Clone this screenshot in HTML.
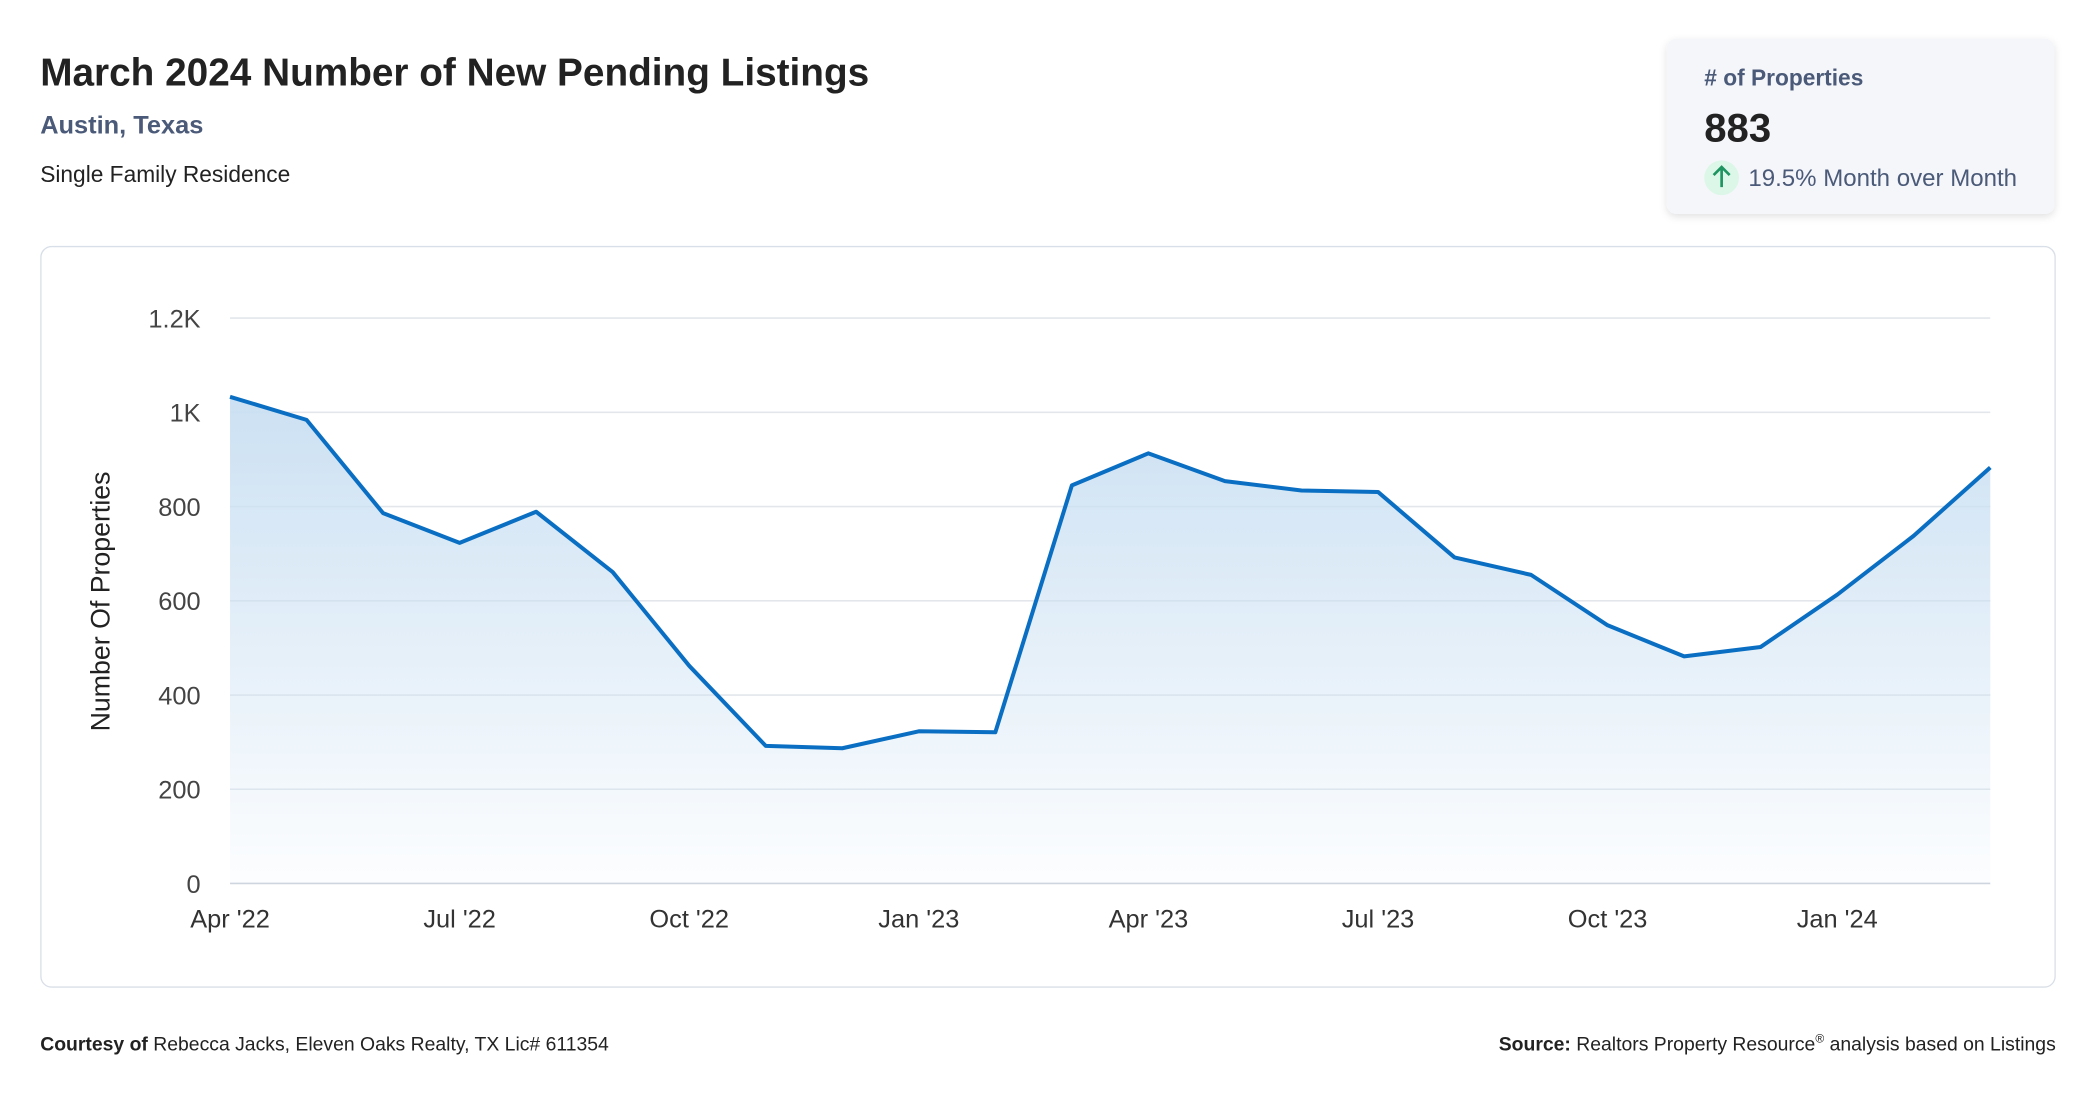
<!DOCTYPE html>
<html><head><meta charset="utf-8">
<style>
html,body{margin:0;padding:0;background:#fff;}
svg{display:block;font-family:"Liberation Sans",sans-serif;}
</style></head>
<body>
<svg id="root" width="2096" height="1100" viewBox="0 0 1568 823" xmlns="http://www.w3.org/2000/svg">
<defs>
<linearGradient id="fillg" x1="0" y1="0" x2="0" y2="1">
<stop offset="0" stop-color="#c9dff2" stop-opacity="0.95"/>
<stop offset="1" stop-color="#c9dff2" stop-opacity="0.05"/>
</linearGradient>
<filter id="sh" x="-10%" y="-10%" width="120%" height="130%"><feDropShadow dx="0" dy="2" stdDeviation="3" flood-color="#000" flood-opacity="0.12"/></filter>
</defs>
<text x="30" y="64" font-size="29" font-weight="bold" fill="#222">March 2024 Number of New Pending Listings</text>
<text x="30" y="100" font-size="19" font-weight="bold" fill="#4a5a78">Austin, Texas</text>
<text x="30" y="136" font-size="17" fill="#222">Single Family Residence</text>

<g>
<rect x="1247" y="29" width="290" height="131" rx="7" fill="#f5f6fa" filter="url(#sh)"/>
<text x="1275" y="64" font-size="17" font-weight="bold" fill="#4a5a78"># of Properties</text>
<text x="1275" y="106" font-size="30" font-weight="bold" fill="#222">883</text>
<circle cx="1288" cy="133" r="13" fill="#dcf7e8"/>
<path d="M1288 140 V126 M1282 131 L1288 125 L1294 131" stroke="#1e9460" stroke-width="2" fill="none"/>
<text x="1308" y="139" font-size="18" fill="#4a5a78">19.5% Month over Month</text>
</g>

<rect x="30.5" y="184.5" width="1507" height="554" rx="8" fill="#fff" stroke="#d9dfe8"/>
<g id="chart"></g>
<text transform="translate(82,450) rotate(-90)" text-anchor="middle" font-size="20" fill="#222">Number Of Properties</text>

<text x="30" y="786" font-size="14.5" fill="#222"><tspan font-weight="bold">Courtesy of</tspan> Rebecca Jacks, Eleven Oaks Realty, TX Lic# 611354</text>
<text x="1538" y="786" text-anchor="end" font-size="14.5" fill="#222"><tspan font-weight="bold">Source:</tspan> Realtors Property Resource<tspan font-size="9" dy="-6">®</tspan><tspan dy="6"> analysis based on Listings</tspan></text>
</svg>
<script>
const months = ["Apr '22","May '22","Jun '22","Jul '22","Aug '22","Sep '22","Oct '22","Nov '22","Dec '22","Jan '23","Feb '23","Mar '23","Apr '23","May '23","Jun '23","Jul '23","Aug '23","Sep '23","Oct '23","Nov '23","Dec '23","Jan '24","Feb '24","Mar '24"];
const values = [1033,984,786,723,789,661,462,292,287,323,321,845,913,854,834,831,692,655,548,482,502,613,738,883];
const yTicks = [0,200,400,600,800,1000,1200];
const yTickLabels = ["0","200","400","600","800","1K","1.2K"];
const xTickIdx = [0,3,6,9,12,15,18,21];

const NS="http://www.w3.org/2000/svg";
const g=document.getElementById('chart');
const x0=172,x1=1489,yBase=661,yTop=238,yMax=1200;
function xs(i){return x0+(x1-x0)*i/(months.length-1);}
function ys(v){return yBase-(yBase-yTop)*v/yMax;}
function mk(tag,attrs){const e=document.createElementNS(NS,tag);for(const k in attrs)e.setAttribute(k,attrs[k]);g.appendChild(e);return e;}

yTicks.forEach((t,i)=>{
  const l=mk('line',{x1:x0,x2:x1,y1:ys(t),y2:ys(t),stroke:i===0?'#cfd5de':'#e3e7ec','stroke-width':1.2});
  
  
  const tx=mk('text',{x:150,y:ys(t)+7,'text-anchor':'end','font-size':19,fill:'#444'});
  tx.textContent=yTickLabels[i];
  
  
});
xTickIdx.forEach(i=>{
  const tx=mk('text',{x:xs(i),y:694,'text-anchor':'middle','font-size':19,fill:'#333'});
  tx.textContent=months[i];
  
  
});
let d=values.map((v,i)=>(i?'L':'M')+xs(i)+' '+ys(v)).join(' ');
const area=mk('path',{d:d+' L'+xs(values.length-1)+' '+yBase+' L'+x0+' '+yBase+' Z',fill:'url(#fillg)'});


const line=mk('path',{d:d,fill:'none',stroke:'#0a6fc2','stroke-width':3,'stroke-linejoin':'round'});


</script>
</body></html>
